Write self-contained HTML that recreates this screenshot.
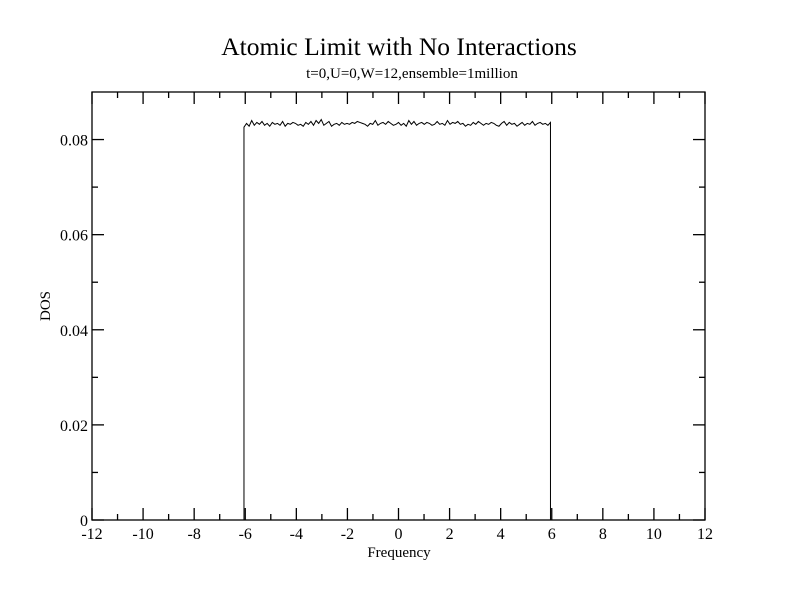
<!DOCTYPE html>
<html><head><meta charset="utf-8"><style>
html,body{margin:0;padding:0;background:#fff;}
svg{display:block;font-family:"Liberation Serif",serif;}
</style></head><body>
<svg id="chart" width="792" height="612" viewBox="0 0 792 612" xmlns="http://www.w3.org/2000/svg">
<rect width="792" height="612" fill="#fff"/>
<text x="399" y="55" font-size="25.5" text-anchor="middle">Atomic Limit with No Interactions</text>
<text x="412" y="78" font-size="15" text-anchor="middle">t=0,U=0,W=12,ensemble=1million</text>
<g id="axes"></g>
<g id="plot"></g>
<text x="399" y="557" font-size="15" text-anchor="middle">Frequency</text>
<text x="50" y="306" font-size="15" text-anchor="middle" transform="rotate(-90 50 306)">DOS</text>
</svg>
<script>
const xTicks = [-12,-10,-8,-6,-4,-2,0,2,4,6,8,10,12];
const yTicks = [0,0.02,0.04,0.06,0.08];
const yTickLabels = ["0","0.02","0.04","0.06","0.08"];
const bandEdges = [-6.05, 5.95];
const dosValues = [0.0826,0.0834,0.0828,0.0840,0.0830,0.0836,0.0832,0.0838,0.0830,0.0834,
0.0828,0.0836,0.0832,0.0834,0.0830,0.0838,0.0828,0.0834,0.0832,0.0836,
0.0834,0.0830,0.0832,0.0828,0.0836,0.0832,0.0838,0.0830,0.0840,0.0834,
0.0842,0.0830,0.0834,0.0838,0.0828,0.0832,0.0834,0.0830,0.0836,0.0832,
0.0834,0.0832,0.0836,0.0834,0.0838,0.0836,0.0834,0.0832,0.0828,0.0834,
0.0832,0.0840,0.0830,0.0834,0.0836,0.0832,0.0838,0.0834,0.0830,0.0832,
0.0836,0.0830,0.0834,0.0828,0.0840,0.0832,0.0838,0.0830,0.0834,0.0836,
0.0832,0.0836,0.0834,0.0830,0.0832,0.0838,0.0832,0.0834,0.0830,0.0840,
0.0832,0.0836,0.0834,0.0838,0.0832,0.0834,0.0828,0.0832,0.0830,0.0836,
0.0832,0.0838,0.0834,0.0830,0.0834,0.0832,0.0836,0.0834,0.0830,0.0828,
0.0834,0.0838,0.0830,0.0836,0.0832,0.0834,0.0828,0.0832,0.0836,0.0830,
0.0834,0.0832,0.0838,0.0830,0.0834,0.0836,0.0832,0.0834,0.0830,0.0836];
const L=92,R=705,T=92,B=520, XMIN=-12,XMAX=12,YMIN=0,YMAX=0.09;
const sx=v=>L+(v-XMIN)/(XMAX-XMIN)*(R-L);
const sy=v=>B-(v-YMIN)/(YMAX-YMIN)*(B-T);
const NS="http://www.w3.org/2000/svg";
function mk(tag,attrs,parent){const e=document.createElementNS(NS,tag);for(const k in attrs)e.setAttribute(k,attrs[k]);parent.appendChild(e);return e;}
const axes=document.getElementById('axes'), plot=document.getElementById('plot');
const frame=mk('rect',{x:L,y:T,width:R-L,height:B-T,fill:'none',stroke:'#000','stroke-width':1.3},axes);


for(let v=XMIN;v<=XMAX;v+=1){
  const x=sx(v), len=(v%2===0)?12:6;
  const t1=mk('line',{x1:x,y1:B,x2:x,y2:B-len,stroke:'#000','stroke-width':1.3},axes);
  
  
  const t2=mk('line',{x1:x,y1:T,x2:x,y2:T+len,stroke:'#000','stroke-width':1.3},axes);
  
  
}
xTicks.forEach(v=>{
  const t=mk('text',{x:sx(v),y:B+19,'font-size':16,'text-anchor':'middle'},axes);t.textContent=String(v);
  
  
});
for(let i=0;i<=8;i++){
  const v=i*0.01, y=sy(v), len=(i%2===0)?12:6;
  const t1=mk('line',{x1:L,y1:y,x2:L+len,y2:y,stroke:'#000','stroke-width':1.3},axes);
  
  
  const t2=mk('line',{x1:R,y1:y,x2:R-len,y2:y,stroke:'#000','stroke-width':1.3},axes);
  
  
}
yTicks.forEach((v,i)=>{
  const t=mk('text',{x:L-4,y:sy(v)+6,'font-size':16,'text-anchor':'end'},axes);t.textContent=yTickLabels[i];
  
  
});
const n=dosValues.length, x0=bandEdges[0], x1=bandEdges[1];
let d='M'+sx(x0)+','+sy(0);
dosValues.forEach((v,i)=>{const xv=x0+(x1-x0)*i/(n-1);d+=' L'+sx(xv).toFixed(2)+','+sy(v).toFixed(2);});
d+=' L'+sx(x1)+','+sy(0);
const p=mk('path',{d:d,fill:'none',stroke:'#000','stroke-width':1},plot);


</script>
</body></html>
